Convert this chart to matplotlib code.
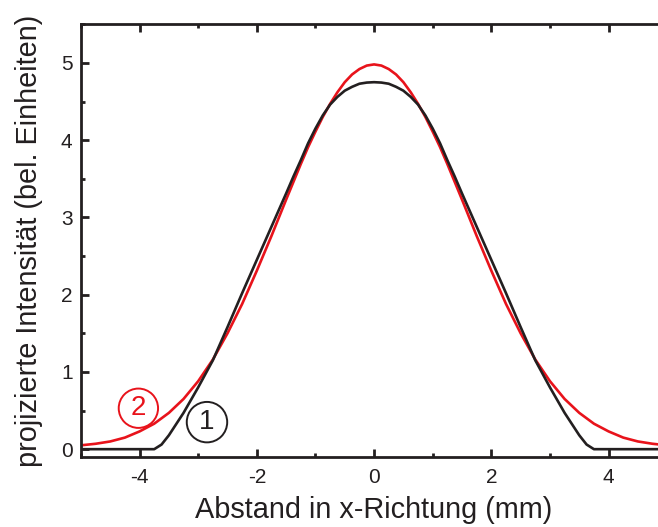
import numpy as np
import matplotlib
matplotlib.use('Agg')
import matplotlib.pyplot as plt
from matplotlib.ticker import MultipleLocator

plt.rcParams['font.family'] = ['Liberation Sans', 'DejaVu Sans']
plt.rcParams['axes.unicode_minus'] = False

# Abstand in x-Richtung (mm)
x_pos = [-5.0, -4.75, -4.5, -4.25, -4.0, -3.875, -3.75, -3.625, -3.5, -3.25,
         -3.0, -2.75, -2.5, -2.25, -2.0, -1.75, -1.5, -1.375, -1.25, -1.125,
         -1.0, -0.875, -0.75, -0.625, -0.5, -0.375, -0.25, -0.125, 0.0,
         0.125, 0.25, 0.375, 0.5, 0.625, 0.75, 0.875, 1.0,
         1.125, 1.25, 1.375, 1.5, 1.75, 2.0, 2.25, 2.5, 2.75, 3.0,
         3.25, 3.5, 3.625, 3.75, 3.875, 4.0, 4.25, 4.5, 4.75, 5.0]

# Kurve 1 (schwarz), ausserhalb von |x| = 3.75 null
kurve1 = [0.0, 0.0, 0.0, 0.0, 0.0, 0.0, 0.0, 0.06, 0.18, 0.47,
          0.80, 1.15, 1.58, 2.02, 2.45, 2.88, 3.31, 3.53, 3.74, 3.96,
          4.15, 4.32, 4.46, 4.56, 4.64, 4.69, 4.73, 4.745, 4.75,
          4.745, 4.73, 4.69, 4.64, 4.56, 4.46, 4.32, 4.15,
          3.96, 3.74, 3.53, 3.31, 2.88, 2.45, 2.02, 1.58, 1.15, 0.80,
          0.47, 0.18, 0.06, 0.0, 0.0, 0.0, 0.0, 0.0, 0.0, 0.0]

# Kurve 2 (rot)
kurve2 = [0.05, 0.07, 0.10, 0.15, 0.23, 0.28, 0.33, 0.40, 0.47, 0.65,
          0.88, 1.16, 1.50, 1.88, 2.31, 2.76, 3.23, 3.46, 3.69, 3.91,
          4.11, 4.30, 4.47, 4.62, 4.75, 4.85, 4.92, 4.965, 4.98,
          4.965, 4.92, 4.85, 4.75, 4.62, 4.47, 4.30, 4.11,
          3.91, 3.69, 3.46, 3.23, 2.76, 2.31, 1.88, 1.50, 1.16, 0.88,
          0.65, 0.47, 0.40, 0.33, 0.28, 0.23, 0.15, 0.10, 0.07, 0.05]

fig = plt.figure(figsize=(6.58, 5.27), dpi=100)
ax = fig.add_axes([0.123, 0.133, 0.891, 0.821])

ax.plot(x_pos, kurve2, color='#e8131b', lw=1.9, solid_joinstyle='round')
ax.plot(x_pos, kurve1, color='#231f20', lw=1.9, solid_joinstyle='round')

ax.set_xlim(-5, 5)
ax.set_ylim(-0.1, 5.5)
ax.xaxis.set_major_locator(MultipleLocator(2))
ax.xaxis.set_minor_locator(MultipleLocator(1))
ax.yaxis.set_major_locator(MultipleLocator(1))
ax.yaxis.set_minor_locator(MultipleLocator(0.5))

for s in ax.spines.values():
    s.set_linewidth(2.0)
    s.set_color('#231f20')

ax.tick_params(which='both', direction='in', top=True, right=True,
               color='#231f20', width=2.0)
ax.tick_params(which='major', length=6, labelsize=15, labelcolor='#231f20')
ax.tick_params(which='minor', length=3)
ax.tick_params(axis='x', which='major', pad=8)
ax.tick_params(axis='y', which='major', pad=6)

ax.set_xlabel('Abstand in x-Richtung (mm)', fontsize=20.8, color='#231f20')
ax.set_ylabel('projizierte Intensität (bel. Einheiten)', fontsize=20.8,
              color='#231f20')
ax.xaxis.set_label_coords(0.5, -0.09)
ax.yaxis.set_label_coords(-0.065, 0.5)

# Kurvennummern im Kreis
ax.text(-4.02, 0.53, '2', fontsize=20, color='#e8131b', ha='center', va='center',
        bbox=dict(boxstyle='circle,pad=0.24', fc='none', ec='#e8131b', lw=1.4))
ax.text(-2.85, 0.35, '1', fontsize=20, color='#231f20', ha='center', va='center',
        bbox=dict(boxstyle='circle,pad=0.26', fc='none', ec='#231f20', lw=1.4))

fig.savefig('out.png', dpi=100)
